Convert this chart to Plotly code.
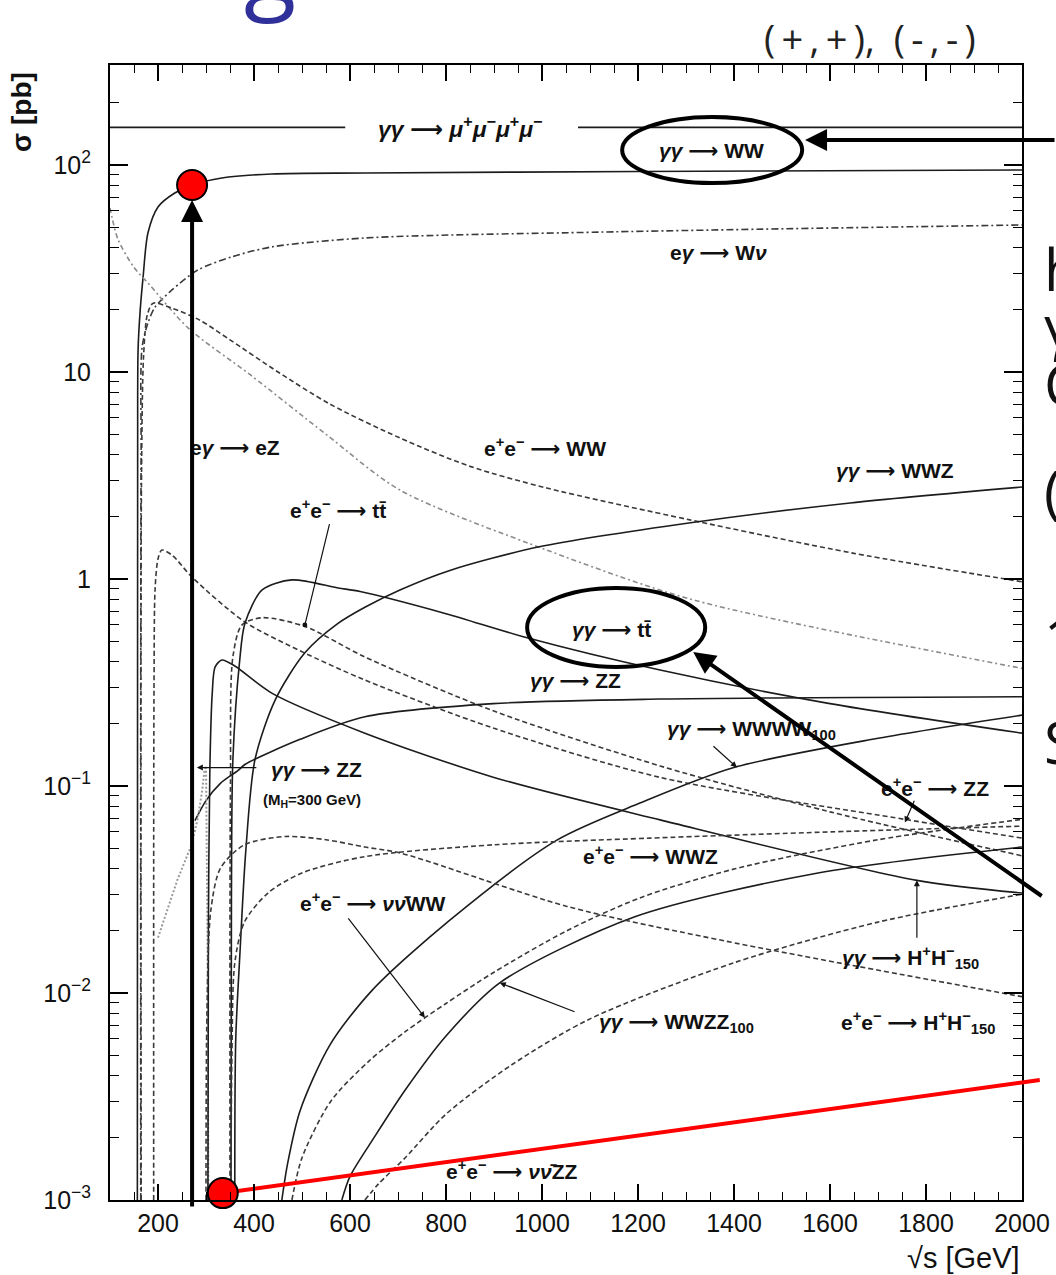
import numpy as np
import plotly.graph_objects as go

# ---------------- axes ----------------
X_RANGE = [100, 2000]          # sqrt(s) in GeV
LOGY_RANGE = [-3.0, 2.483]     # log10(sigma / pb)

# ---------------- cross sections: sqrt(s) [GeV], sigma [pb] ----------------
aa_4mu_x = [100, 590, None, 1075, 2000]
aa_4mu_y = [152, 152, None, 152, 152]

aa_ww_x = [157, 157.6, 158.5, 163, 169, 179, 200, 235, 271, 333, 437, 631, 1200, 2000]
aa_ww_y = [0.001, 4, 12.8, 20, 28.8, 46.9, 62.7, 73.2, 80, 86.5, 90.5, 91.5, 93, 94.6]

ea_wnu_x = [164, 164.8, 167, 180, 194, 229, 283, 354, 437, 631, 1121, 2000]
ea_wnu_y = [0.001, 4, 13.2, 17.5, 20.6, 24.9, 31.1, 36, 40.2, 44.4, 47.4, 51.3]

ea_ez_x = [100, 104, 117, 150, 183, 263, 392, 550, 704, 1010, 1317, 2000]
ea_ez_y = [62, 56, 43.5, 32, 26.3, 16.3, 9.7, 5.0, 2.69, 1.38, 0.79, 0.37]

ee_ww_x = [165, 165.6, 170, 178, 190, 230, 287, 350, 450, 558, 704, 850, 1010, 1308, 1650, 2000]
ee_ww_y = [0.001, 3, 12, 19, 21.5, 20.3, 17.8, 14.3, 10.0, 7.0, 4.8, 3.5, 2.75, 1.93, 1.33, 0.97]

ee_zz_x = [191, 191.7, 194, 200, 208, 230, 271, 381, 496, 631, 900, 1246, 1756, 2000]
ee_zz_y = [0.001, 0.3, 0.9, 1.25, 1.38, 1.3, 1.02, 0.62, 0.45, 0.325, 0.19, 0.11, 0.069, 0.056]

ee_tt_x = [350, 351, 356, 375, 417, 506, 631, 900, 1246, 1600, 2000]
ee_tt_y = [0.001, 0.1, 0.42, 0.6, 0.65, 0.59, 0.42, 0.23, 0.125, 0.075, 0.046]

aa_tt_x = [352, 353, 356, 370, 381, 417, 479, 575, 621, 800, 969, 1246, 1600, 2000]
aa_tt_y = [0.001, 0.03, 0.134, 0.4, 0.61, 0.885, 0.99, 0.905, 0.87, 0.68, 0.52, 0.363, 0.25, 0.18]

aa_wwz_x = [360, 362, 371, 383, 402, 444, 506, 575, 631, 704, 808, 994, 1317, 1642, 2000]
aa_wwz_y = [0.001, 0.006, 0.016, 0.049, 0.134, 0.26, 0.44, 0.61, 0.73, 0.885, 1.1, 1.43, 1.88, 2.33, 2.78]

aa_zz_x = [277, 300, 330, 367, 381, 496, 631, 898, 1246, 2000]
aa_zz_y = [0.068, 0.085, 0.103, 0.119, 0.127, 0.168, 0.216, 0.25, 0.263, 0.27]

aa_zz_h300_x = [200, 240, 270, 283, 292, 297, 300, 303, 305]
aa_zz_h300_y = [0.0185, 0.035, 0.052, 0.07, 0.095, 0.12, 0.125, 0.02, 0.001]

aa_hh_x = [304, 305, 308, 313, 319, 333, 360, 437, 631, 900, 1246, 1781, 2000]
aa_hh_y = [0.001, 0.02, 0.12, 0.28, 0.376, 0.406, 0.38, 0.281, 0.18, 0.11, 0.0686, 0.035, 0.0304]

aa_wwww_x = [458, 470, 496, 558, 646, 808, 1031, 1204, 1398, 1700, 2000]
aa_wwww_y = [0.001, 0.0015, 0.0027, 0.0056, 0.0103, 0.0225, 0.0548, 0.0827, 0.1225, 0.17, 0.22]

aa_wwzz_x = [583, 600, 650, 715, 800, 912, 1192, 1575, 2000]
aa_wwzz_y = [0.001, 0.0013, 0.002, 0.0034, 0.0062, 0.0112, 0.0233, 0.038, 0.0507]

ee_wwz_x = [352, 354, 360, 380, 429, 500, 631, 900, 1225, 1600, 2000]
ee_wwz_y = [0.001, 0.005, 0.014, 0.022, 0.0304, 0.038, 0.0456, 0.052, 0.056, 0.06, 0.064]

ee_hh_x = [300, 302, 310, 330, 380, 465, 550, 631, 704, 1052, 1383, 2000]
ee_hh_y = [0.001, 0.008, 0.025, 0.04, 0.052, 0.057, 0.055, 0.0507, 0.0475, 0.0262, 0.0178, 0.0096]

ee_nnww_x = [479, 500, 560, 640, 715, 800, 900, 1052, 1204, 1402, 1700, 2000]
ee_nnww_y = [0.001, 0.0016, 0.0030, 0.0047, 0.0065, 0.0089, 0.0126, 0.020, 0.0288, 0.0398, 0.055, 0.069]

ee_nnzz_x = [631, 660, 715, 800, 937, 1100, 1400, 1700, 2000]
ee_nnzz_y = [0.001, 0.0012, 0.0016, 0.0026, 0.0045, 0.0075, 0.014, 0.022, 0.03]

# highlighted points and the red guide line
marked_x = [271, 335]
marked_y = [80, 0.00108]
red_line_x = [335, 2037]
red_line_y = [0.00108, 0.0038]

# ---------------- curve labels ----------------
label_text = [
    "<i>γγ</i> ⟶ <i>μ</i><sup>+</sup><i>μ</i><sup>−</sup><i>μ</i><sup>+</sup><i>μ</i><sup>−</sup>",
    "<i>γγ</i> ⟶ WW",
    "e<i>γ</i> ⟶ W<i>ν</i>",
    "e<i>γ</i> ⟶ eZ",
    "e<sup>+</sup>e<sup>−</sup> ⟶ WW",
    "<i>γγ</i> ⟶ WWZ",
    "e<sup>+</sup>e<sup>−</sup> ⟶ tt\u0304",
    "<i>γγ</i> ⟶ tt\u0304",
    "<i>γγ</i> ⟶ ZZ",
    "<i>γγ</i> ⟶ WWWW<sub>100</sub>",
    "<i>γγ</i> ⟶ ZZ",
    "e<sup>+</sup>e<sup>−</sup> ⟶ ZZ",
    "e<sup>+</sup>e<sup>−</sup> ⟶ WWZ",
    "e<sup>+</sup>e<sup>−</sup> ⟶ <i>νν\u0304</i>WW",
    "<i>γγ</i> ⟶ H<sup>+</sup>H<sup>−</sup><sub>150</sub>",
    "<i>γγ</i> ⟶ WWZZ<sub>100</sub>",
    "e<sup>+</sup>e<sup>−</sup> ⟶ H<sup>+</sup>H<sup>−</sup><sub>150</sub>",
    "e<sup>+</sup>e<sup>−</sup> ⟶ <i>νν\u0304</i>ZZ",
]
label_x = [829, 1354, 1367, 360, 1006, 1735, 575, 1146, 1069, 1437, 530, 1819, 1225, 646, 1767, 1281, 1783, 937]
label_y = [152.6, 118, 37.6, 4.33, 4.33, 3.36, 2.18, 0.568, 0.325, 0.187, 0.1197, 0.0987, 0.0464, 0.0275, 0.0149, 0.0072, 0.0072, 0.0014]

mh_note_text = "(M<sub>H</sub>=300 GeV)"
mh_note_x, mh_note_y = 521, 0.0854

# thin pointers from labels to curves: (tail x, tail y, tip x, tip y, head style)
pointers = [
    (558, 1.87, 506, 0.60, 6),
    (1354, 0.158, 1406, 0.123, 2),
    (1777, 0.0862, 1756, 0.0667, 2),
    (594, 0.0233, 756, 0.0076, 2),
    (1781, 0.0182, 1781, 0.035, 2),
    (1071, 0.00806, 912, 0.0112, 2),
    (408, 0.1227, 281, 0.1227, 2),
]

# ---------------- styles ----------------
SOLID = dict(color="#1c1c1c", width=1.6, dash="solid")
DASHED = dict(color="#3a3a3a", width=1.6, dash="5px,3px")
DASHDOT = dict(color="#3a3a3a", width=1.6, dash="7px,3px,2px,3px")
GREY_DASHDOT = dict(color="#8c8c8c", width=1.6, dash="5px,3px,2px,3px")
GREY_DOT = dict(color="#9a9a9a", width=2.0, dash="2px,2px")

curves = [
    (aa_4mu_x, aa_4mu_y, SOLID, "linear"),
    (aa_ww_x, aa_ww_y, SOLID, "spline"),
    (ea_wnu_x, ea_wnu_y, DASHDOT, "spline"),
    (ea_ez_x, ea_ez_y, GREY_DASHDOT, "spline"),
    (ee_ww_x, ee_ww_y, DASHED, "spline"),
    (ee_zz_x, ee_zz_y, DASHED, "spline"),
    (ee_tt_x, ee_tt_y, DASHED, "spline"),
    (aa_tt_x, aa_tt_y, SOLID, "spline"),
    (aa_wwz_x, aa_wwz_y, SOLID, "spline"),
    (aa_zz_x, aa_zz_y, SOLID, "spline"),
    (aa_zz_h300_x, aa_zz_h300_y, GREY_DOT, "linear"),
    (aa_hh_x, aa_hh_y, SOLID, "spline"),
    (aa_wwww_x, aa_wwww_y, SOLID, "spline"),
    (aa_wwzz_x, aa_wwzz_y, SOLID, "spline"),
    (ee_wwz_x, ee_wwz_y, DASHED, "spline"),
    (ee_hh_x, ee_hh_y, DASHED, "spline"),
    (ee_nnww_x, ee_nnww_y, DASHED, "spline"),
    (ee_nnzz_x, ee_nnzz_y, DASHED, "spline"),
]

fig = go.Figure()
for cx, cy, style, shape in curves:
    fig.add_trace(go.Scatter(
        x=cx, y=cy, mode="lines", hoverinfo="skip", connectgaps=False,
        line=dict(shape=shape, smoothing=0.8, **style),
    ))

# red guide line (inside the frame) and the two highlighted points
fig.add_trace(go.Scatter(x=red_line_x, y=red_line_y, mode="lines", hoverinfo="skip",
                         line=dict(color="#ff0000", width=4)))
fig.add_trace(go.Scatter(x=marked_x, y=marked_y, mode="markers", hoverinfo="skip", cliponaxis=False,
                         marker=dict(size=30, color="#ff0000", line=dict(color="black", width=2))))


def to_paper_x(v):
    return (v - X_RANGE[0]) / (X_RANGE[1] - X_RANGE[0])


def to_paper_y(v):
    return (np.log10(v) - LOGY_RANGE[0]) / (LOGY_RANGE[1] - LOGY_RANGE[0])


# part of the red line that runs past the right frame
lx0, lx1 = red_line_x
ly0, ly1 = np.log10(red_line_y[0]), np.log10(red_line_y[1])
y_at_edge = 10 ** (ly0 + (X_RANGE[1] - lx0) / (lx1 - lx0) * (ly1 - ly0))
shapes = [
    dict(type="line", xref="paper", yref="paper",
         x0=1.0, y0=to_paper_y(y_at_edge), x1=to_paper_x(lx1), y1=to_paper_y(red_line_y[1]),
         line=dict(color="#ff0000", width=4)),
    # ellipses around two of the labels
    dict(type="circle", xref="x", yref="y", x0=1167, x1=1542, y0=81.8, y1=170.5,
         line=dict(color="black", width=4)),
    dict(type="circle", xref="x", yref="y", x0=969, x1=1340, y0=0.376, y1=0.905,
         line=dict(color="black", width=4)),
]

LABEL_FONT = dict(family="Liberation Sans, DejaVu Sans, sans-serif", size=21, color="#111111",
                  weight="bold")
annotations = []
for i, (t, lx, ly) in enumerate(zip(label_text, label_x, label_y)):
    annotations.append(dict(x=lx, y=np.log10(ly), xref="x", yref="y", text=t, showarrow=False,
                            font=dict(LABEL_FONT, size=23) if i == 0 else LABEL_FONT,
                            xanchor="center", yanchor="middle"))
annotations.append(dict(x=mh_note_x, y=np.log10(mh_note_y), xref="x", yref="y", text=mh_note_text,
                        showarrow=False, xanchor="center", yanchor="middle",
                        font=dict(LABEL_FONT, size=15)))

for tx, ty, hx, hy, head in pointers:
    annotations.append(dict(x=hx, y=np.log10(hy), xref="x", yref="y", ax=tx, ay=np.log10(ty),
                            axref="x", ayref="y", text="", showarrow=True, arrowhead=head,
                            arrowsize=1, arrowwidth=1.2, arrowcolor="#111111", standoff=0))

# heavy arrows
annotations += [
    dict(x=271, y=np.log10(67.8), xref="x", yref="y", ax=0, ay=1008, text="", showarrow=True,
         arrowhead=2, arrowsize=1.1, arrowwidth=4, arrowcolor="black", standoff=0),
    dict(x=1548, y=2.121, xref="x", yref="y", ax=265, ay=0, text="", showarrow=True,
         arrowhead=2, arrowsize=1.1, arrowwidth=4, arrowcolor="black", standoff=0),
    dict(x=1315, y=-0.353, xref="x", yref="y", ax=350, ay=245, text="", showarrow=True,
         arrowhead=2, arrowsize=1.1, arrowwidth=4, arrowcolor="black", standoff=0),
]

# axis titles
annotations += [
    dict(x=-0.0965, y=0.9586, xref="paper", yref="paper", text="σ [pb]", textangle=-90,
         showarrow=False, xanchor="center", yanchor="middle",
         font=dict(family="Liberation Sans, DejaVu Sans", size=28, color="#111111", weight="bold")),
    dict(x=1.0, y=-0.0515, xref="paper", yref="paper", text="√s [GeV]", showarrow=False,
         xanchor="right", yanchor="middle",
         font=dict(family="Liberation Sans, DejaVu Sans", size=29, color="#111111")),
]

# slide text around the chart
annotations.append(dict(x=0.8333, y=1.0238, xref="paper", yref="paper",
                        text="(\u2009+\u2009,\u2009+\u2009),\u2002(\u2009-\u2009,\u2009-\u2009)",
                        showarrow=False, xanchor="center", yanchor="middle",
                        font=dict(family="Open Sans, DejaVu Sans", size=38, color="#222222")))
annotations.append(dict(x=0.1754, y=1.030, xref="paper", yref="paper", text="g", showarrow=False,
                        xanchor="center", yanchor="bottom",
                        font=dict(family="Open Sans, DejaVu Sans", size=96, color="#30309a")))
side_letters = ["h", "γ", "C", "(", "1", "S"]
side_rows = [268, 325, 383, 490, 637, 742]
for ch, row in zip(side_letters, side_rows):
    annotations.append(dict(x=1.022, y=(1200 - row) / 1135, xref="paper", yref="paper", text=ch,
                            showarrow=False, xanchor="left", yanchor="middle",
                            font=dict(family="Open Sans, DejaVu Sans", size=58, color="#111111")))

TICK_FONT = dict(family="Liberation Sans, DejaVu Sans", size=25, color="#111111")
x_ticks = [200, 400, 600, 800, 1000, 1200, 1400, 1600, 1800, 2000]
x_minor = [v for v in range(100, 2001, 50) if v % 200 != 0]
y_ticks = [1e-3, 1e-2, 1e-1, 1, 10, 100]
y_ticktext = ["10<sup>−3</sup>", "10<sup>−2</sup>", "10<sup>−1</sup>", "1", "10", "10<sup>2</sup>"]
y_minor = [k * 10.0 ** d for d in range(-3, 3) for k in range(2, 10) if k * 10.0 ** d < 300]

fig.update_layout(
    width=1056, height=1275, autosize=False,
    margin=dict(l=110, r=34, t=65, b=75, pad=0, autoexpand=False),
    paper_bgcolor="white", plot_bgcolor="white", showlegend=False,
    shapes=shapes, annotations=annotations,
    xaxis=dict(range=X_RANGE, showline=True, linecolor="black", linewidth=2, mirror="ticks",
               ticks="inside", ticklen=16, tickwidth=1.5, tickcolor="black", automargin=False,
               tickvals=x_ticks, ticktext=[str(v) for v in x_ticks], tickfont=TICK_FONT,
               ticklabelstandoff=0, showgrid=False, zeroline=False,
               minor=dict(tickvals=x_minor, ticks="inside", ticklen=8, tickwidth=1.2,
                          tickcolor="black", showgrid=False)),
    yaxis=dict(type="log", range=LOGY_RANGE, showline=True, linecolor="black", linewidth=2,
               mirror="ticks", ticks="inside", ticklen=18, tickwidth=1.5, tickcolor="black",
               automargin=False,
               tickvals=y_ticks, ticktext=y_ticktext, tickfont=TICK_FONT,
               ticklabelstandoff=12, showgrid=False, zeroline=False,
               minor=dict(tickvals=y_minor, ticks="inside", ticklen=9, tickwidth=1.2,
                          tickcolor="black", showgrid=False)),
)

fig.write_html("out.html")
